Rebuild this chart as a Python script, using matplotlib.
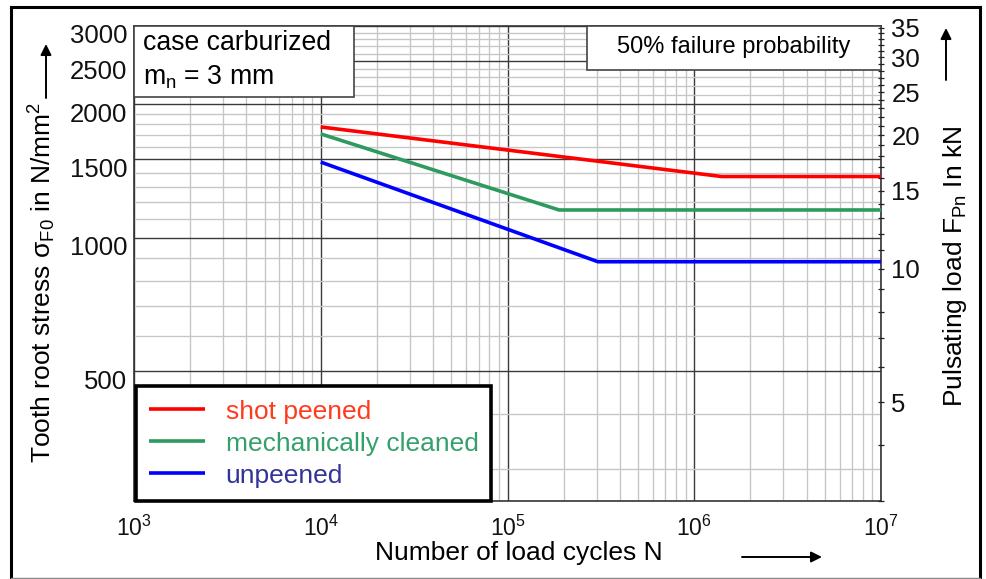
import matplotlib
matplotlib.use("Agg")
import matplotlib.pyplot as plt
import matplotlib.transforms as mtransforms
from matplotlib.ticker import FixedLocator, NullFormatter, FixedFormatter
from matplotlib.lines import Line2D
from matplotlib.patches import Rectangle, FancyArrowPatch

plt.rcParams['font.family'] = ['Liberation Sans', 'DejaVu Sans']
plt.rcParams['mathtext.fontset'] = 'custom'
plt.rcParams['mathtext.rm'] = 'Liberation Sans'
plt.rcParams['mathtext.it'] = 'Liberation Sans:italic'
plt.rcParams['mathtext.bf'] = 'Liberation Sans:bold'
plt.rcParams['mathtext.sf'] = 'Liberation Sans'

# S-N curves (load cycles vs. tooth root stress in N/mm^2)
cycles_shot = [1e4, 1.40e6, 1e7]
stress_shot = [1776, 1373, 1373]
cycles_mech = [1e4, 1.89e5, 1e7]
stress_mech = [1713, 1154, 1154]
cycles_unpeened = [1e4, 3.05e5, 1e7]
stress_unpeened = [1480, 882, 882]

series_labels = ['shot peened', 'mechanically cleaned', 'unpeened']
line_colors = ['#ff0000', '#2e9a60', '#0000ff']
label_colors = ['#ff3b1e', '#34a06c', '#333399']

cycle_ticks = [1e3, 1e4, 1e5, 1e6, 1e7]
cycle_tick_labels = [r'$\mathregular{10^{3}}$', r'$\mathregular{10^{4}}$', r'$\mathregular{10^{5}}$',
                     r'$\mathregular{10^{6}}$', r'$\mathregular{10^{7}}$']
stress_ticks = [500, 1000, 1500, 2000, 2500, 3000]
stress_minor = [v for v in range(300, 3000, 100) if v not in stress_ticks]
load_ticks = [5, 10, 15, 20, 25, 30, 35]
load_minor = [v for v in range(3, 36) if v not in load_ticks]
stress_per_kN = 85.0
stress_range = (255, 3000)

W, H = 987, 579
fig = plt.figure(figsize=(W / 100, H / 100), dpi=100)


def fx(px):
    return px / W


def fy(py):
    return 1 - py / H


left, right, top, bottom = 134, 881, 26, 500.7
ax = fig.add_axes([fx(left), fy(bottom), (right - left) / W, (bottom - top) / H])
ax.set_xscale('log')
ax.set_yscale('log')
ax.set_xlim(1e3, 1e7)
ax.set_ylim(*stress_range)

# grid: dark decade / major lines, light minor lines
ax.xaxis.set_major_locator(FixedLocator(cycle_ticks))
ax.xaxis.set_major_formatter(FixedFormatter(cycle_tick_labels))
ax.xaxis.set_minor_locator(FixedLocator([m * 10 ** e for e in range(3, 7) for m in range(2, 10)]))
ax.xaxis.set_minor_formatter(NullFormatter())
ax.yaxis.set_major_locator(FixedLocator(stress_ticks))
ax.yaxis.set_major_formatter(FixedFormatter([str(v) for v in stress_ticks]))
ax.yaxis.set_minor_locator(FixedLocator(stress_minor))
ax.yaxis.set_minor_formatter(NullFormatter())
ax.grid(True, which='major', color='#3a3a3a', lw=1.0)
ax.grid(True, which='minor', color='#c6c6c6', lw=0.95)
ax.set_axisbelow(True)
ax.tick_params(which='both', length=0)
ax.tick_params(axis='y', labelsize=18.5, pad=5, labelcolor='#111111')
ax.tick_params(axis='x', labelsize=16.5, pad=11, labelcolor='#111111')
for s in ax.spines.values():
    s.set_color('#333333')
    s.set_linewidth(1.2)

# stress tick labels sit slightly below their grid lines
shift = mtransforms.ScaledTranslation(0, -8 / 100, fig.dpi_scale_trans)
for t in ax.yaxis.get_major_ticks():
    t.label1.set_transform(t.label1.get_transform() + shift)

# S-N lines
series = [(cycles_shot, stress_shot), (cycles_mech, stress_mech), (cycles_unpeened, stress_unpeened)]
handles = []
for (n, s), c, lab in zip(series, line_colors, series_labels):
    h, = ax.plot(n, s, color=c, lw=2.6, solid_capstyle='butt', zorder=3, label=lab)
    handles.append(h)

# secondary axis: pulsating load
ax2 = ax.twinx()
ax2.set_yscale('log')
ax2.set_ylim(stress_range[0] / stress_per_kN, stress_range[1] / stress_per_kN)
ax2.yaxis.set_major_locator(FixedLocator(load_ticks))
ax2.yaxis.set_major_formatter(FixedFormatter([str(v) for v in load_ticks]))
ax2.yaxis.set_minor_locator(FixedLocator(load_minor))
ax2.yaxis.set_minor_formatter(NullFormatter())
ax2.tick_params(which='both', direction='inout', length=5, width=0.9, color='#222222')
ax2.tick_params(axis='y', labelsize=18.5, pad=5, labelcolor='#111111')
for s in ax2.spines.values():
    s.set_visible(False)

# annotation boxes
box_kw = dict(transform=ax.transAxes, facecolor='white', edgecolor='#444444', lw=1.2,
              zorder=4, clip_on=False)
ax.add_patch(Rectangle((0, (bottom - 97) / (bottom - top)), (354 - left) / (right - left),
                       (97 - top) / (bottom - top), **box_kw))
ax.add_patch(Rectangle(((587 - left) / (right - left), (bottom - 70) / (bottom - top)),
                       (right - 587) / (right - left), (70 - top) / (bottom - top), **box_kw))
fig.text(fx(143), fy(43), 'case carburized', fontsize=19.2, ha='left', va='center', zorder=5)
fig.text(fx(143), fy(77), r'm$_\mathregular{n}$ = 3 mm', fontsize=19.2, ha='left', va='center', zorder=5)
fig.text(fx(734), fy(47), '50% failure probability', fontsize=17, ha='center', va='center', zorder=5)

# legend
leg = ax.legend(handles=handles, loc='lower left',
                bbox_to_anchor=((136 - left) / (right - left), 0.0, (491 - 136) / (right - left), 0.24),
                mode='expand', borderaxespad=0, fontsize=19, labelcolor=label_colors,
                handlelength=2.1, handletextpad=0.8, borderpad=0.5, labelspacing=0.3,
                fancybox=False, framealpha=1, edgecolor='black')
leg.get_frame().set_linewidth(2.6)
leg.set_zorder(6)

# axis titles with direction arrows
fig.text(fx(375), fy(553), 'Number of load cycles N', fontsize=19, ha='left', va='center')
arrow = dict(arrowstyle='-|>', color='black', lw=1.4, mutation_scale=16, shrinkA=0, shrinkB=0)
fig.add_artist(FancyArrowPatch((fx(742), fy(557)), (fx(822), fy(557)),
                               transform=fig.transFigure, **arrow))
fig.text(fx(51), fy(463), r'Tooth root stress σ$_\mathregular{F0}$ in N/mm$^\mathregular{2}$',
         fontsize=19, rotation=90, rotation_mode='anchor', ha='left', va='baseline')
fig.add_artist(FancyArrowPatch((fx(46), fy(98)), (fx(46), fy(44)),
                               transform=fig.transFigure, **arrow))
fig.text(fx(962), fy(407), r'Pulsating load F$_\mathregular{Pn}$ In kN',
         fontsize=19, rotation=90, rotation_mode='anchor', ha='left', va='baseline')
fig.add_artist(FancyArrowPatch((fx(946), fy(80)), (fx(946), fy(28)),
                               transform=fig.transFigure, **arrow))

# outer frame
for (x0, y0, x1, y1, c, w) in [(11, 7, 11, 578, 'black', 2.2), (11, 7, 980, 7, 'black', 2.2),
                               (980, 7, 980, 578, 'black', 2.2), (11, 577.5, 980, 577.5, '#888888', 1.0)]:
    fig.add_artist(Line2D([fx(x0), fx(x1)], [fy(y0), fy(y1)], transform=fig.transFigure,
                          color=c, lw=w))

fig.savefig('out.png', dpi=100)
